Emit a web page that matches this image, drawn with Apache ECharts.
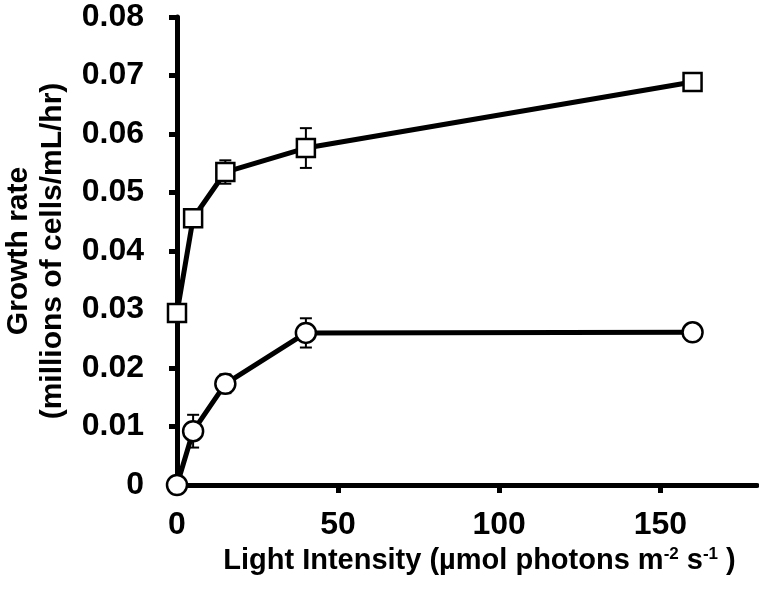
<!DOCTYPE html>
<html>
<head>
<meta charset="utf-8">
<script src="https://cdn.jsdelivr.net/npm/echarts@6/dist/echarts.min.js"></script>
<style>html,body{margin:0;padding:0;background:#fff}#c{width:759px;height:589px}</style>
</head>
<body>
<div id="c"></div>
<script>
const xValues = [0, 5, 15, 40, 160];
const squareMeans = [0.0294, 0.0456, 0.0535, 0.0576, 0.0689];
const squareErrors = [0.0005, 0.0005, 0.002, 0.0034, 0.0005];
const circleMeans = [0, 0.0092, 0.0173, 0.0260, 0.0261];
const circleErrors = [0, 0.0028, 0.0016, 0.0025, 0];
const xTickValues = [50, 100, 150];
const xLabelValues = [0, 50, 100, 150];

const font = 'Liberation Sans, Arial, sans-serif';
const pts = (m) => xValues.map((x, i) => [x, m[i]]);
const errPts = (m, e) => xValues.map((x, i) => [x, m[i], e[i]]);

function errRender(params, api) {
  const x = api.value(0), y = api.value(1), e = api.value(2);
  if (!e) return null;
  const top = api.coord([x, y + e]);
  const bot = api.coord([x, y - e]);
  const w = 6;
  const st = { stroke: '#000', lineWidth: 2 };
  return {
    type: 'group',
    children: [
      { type: 'line', shape: { x1: top[0], y1: top[1], x2: bot[0], y2: bot[1] }, style: st },
      { type: 'line', shape: { x1: top[0] - w, y1: top[1], x2: top[0] + w, y2: top[1] }, style: st },
      { type: 'line', shape: { x1: bot[0] - w, y1: bot[1], x2: bot[0] + w, y2: bot[1] }, style: st }
    ]
  };
}

const chart = echarts.init(document.getElementById('c'));
chart.setOption({
  animation: false,
  backgroundColor: '#fff',
  grid: { left: 177, right: 2, top: 17, bottom: 104, containLabel: false, outerBoundsMode: 'none' },
  xAxis: {
    type: 'value', min: 0, max: 180,
    splitLine: { show: false },
    axisLine: { lineStyle: { color: '#000', width: 5 } },
    axisTick: { length: 8, lineStyle: { color: '#000', width: 5 }, customValues: xTickValues },
    axisLabel: { customValues: xLabelValues, margin: 24, color: '#000', fontSize: 32, fontWeight: 'bold', fontFamily: font },
    name: 'Light Intensity (µmol photons m{sup|-2} s{sup|-1} )',
    nameLocation: 'middle', nameGap: 60,
    nameTextStyle: {
      color: '#000', fontSize: 29, fontWeight: 'bold', fontFamily: font, padding: [0, 0, 0, 25],
      rich: { sup: { fontSize: 17, fontWeight: 'bold', fontFamily: font, color: '#000', verticalAlign: 'top', padding: [0, 0, 14, 0] } }
    }
  },
  yAxis: {
    type: 'value', min: 0, max: 0.08, interval: 0.01,
    splitLine: { show: false },
    axisLine: { lineStyle: { color: '#000', width: 5 } },
    axisTick: { length: 8, lineStyle: { color: '#000', width: 5 } },
    axisLabel: { margin: 33, color: '#000', fontSize: 32, fontWeight: 'bold', fontFamily: font,
      formatter: v => v === 0 ? '0' : v.toFixed(2) },
    name: 'Growth rate\n(millions of cells/mL/hr)',
    nameLocation: 'middle', nameGap: 107, nameRotate: 90,
    nameTextStyle: { color: '#000', fontSize: 30, fontWeight: 'bold', fontFamily: font, lineHeight: 34 }
  },
  series: [
    { type: 'custom', renderItem: errRender, data: errPts(squareMeans, squareErrors), z: 1, clip: false },
    { type: 'custom', renderItem: errRender, data: errPts(circleMeans, circleErrors), z: 1, clip: false },
    { type: 'line', data: pts(squareMeans), symbol: 'rect', symbolSize: 18, clip: false, z: 3,
      lineStyle: { color: '#000', width: 5 }, itemStyle: { color: '#fff', borderColor: '#000', borderWidth: 2.5 } },
    { type: 'line', data: pts(circleMeans), symbol: 'circle', symbolSize: 20, clip: false, z: 3,
      lineStyle: { color: '#000', width: 5 }, itemStyle: { color: '#fff', borderColor: '#000', borderWidth: 2.5 } }
  ]
});
</script>
</body>
</html>
